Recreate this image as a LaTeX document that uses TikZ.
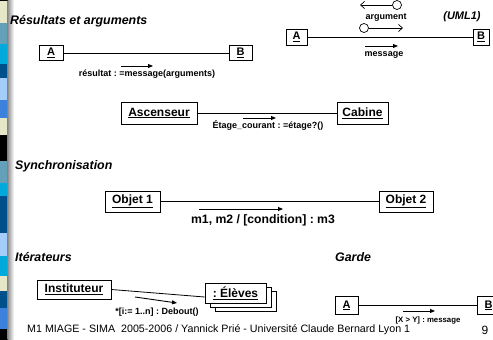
\documentclass[tikz,border=0pt]{standalone}
\usepackage{fontspec}
\setmainfont{Liberation Sans}
\usetikzlibrary{arrows.meta}
\frenchspacing

\definecolor{stripbeige}{RGB}{230,230,200}
\definecolor{stripteal}{RGB}{100,160,185}
\definecolor{stripcyan}{RGB}{0,170,220}
\definecolor{stripdark}{RGB}{0,80,140}
\definecolor{striplight}{RGB}{165,205,250}
\definecolor{stripmid}{RGB}{60,130,220}

\tikzset{
  obj/.style={draw, line width=0.8pt, fill=white, inner sep=0pt,
    font=\fontsize{12}{12}\selectfont\bfseries},
  smallobj/.style={obj, font=\fontsize{11}{11}\selectfont\bfseries},
  assoc/.style={line width=0.8pt},
  msg/.style={line width=0.9pt, -{Triangle[length=5pt,width=4pt]}},
  openmsg/.style={line width=0.7pt, -{Straight Barb[length=4pt,width=7pt]}},
  msglabel/.style={inner sep=0pt, font=\fontsize{9}{9}\selectfont\bfseries},
  section/.style={anchor=west, inner sep=0pt, font=\fontsize{12.4}{12}\selectfont\bfseries\itshape},
}

\begin{document}
\begin{tikzpicture}[x=1pt, y=-1pt]
\useasboundingbox (0,0) rectangle (493,340);
\fill[white] (0,0) rectangle (493,340);

% coloured strip on the left edge
\foreach \ya/\yb/\c in {0/1/black, 1/23/stripbeige, 23/44/stripteal, 44/64/stripcyan,
  64/78/stripdark, 78/100/striplight, 100/118/stripmid, 118/135/stripbeige,
  135/161/black, 161/183/stripteal, 183/196/stripcyan, 196/233/stripdark,
  233/256/striplight, 256/276/stripcyan, 276/291/stripbeige, 291/308/stripdark,
  308/329/stripmid, 329/340/black}
  \fill[\c] (0,\ya) rectangle (7.5,\yb);
\shade[left color=black!45, right color=white] (7.5,0) rectangle (14,340);

% --- Résultats et arguments
\node[section] (t1) at (10,21) {Résultats et arguments};
\node[smallobj, minimum width=24pt, minimum height=15pt] (a1) at (51,53) {\underline{A}};
\node[smallobj, minimum width=23pt, minimum height=15pt] (b1) at (240.5,53) {\underline{B}};
\draw[assoc] (a1) -- (b1);
\coordinate (r1s) at (121,66);
\coordinate (r1e) at (153,66);
\draw[msg] (r1s) -- (r1e);
\node[msglabel] (r1l) at (147,74) {résultat : =message(arguments)};

% --- UML1 notation
\node[section, anchor=center, font=\fontsize{11}{11}\selectfont\bfseries\itshape] (uml) at (462,17) {(UML1)};
\node[smallobj, minimum width=21pt, minimum height=16pt] (a2) at (296.5,37) {\underline{A}};
\node[smallobj, minimum width=16pt, minimum height=16pt] (b2) at (481,37) {\underline{B}};
\draw[assoc] (a2) -- (b2);
\node[draw, circle, line width=0.7pt, minimum size=9pt, inner sep=0pt] (c1) at (397,5) {};
\coordinate (c1e) at (360,5);
\draw[openmsg] (c1) -- (c1e);
\node[msglabel] (argl) at (386,18) {argument};
\node[draw, circle, line width=0.7pt, minimum size=9pt, inner sep=0pt] (c2) at (364,28) {};
\coordinate (c2e) at (403,28);
\draw[openmsg] (c2) -- (c2e);
\coordinate (m2s) at (365,46);
\coordinate (m2e) at (398,46);
\draw[msg] (m2s) -- (m2e);
\node[msglabel] (m2l) at (384,55) {message};

% --- Ascenseur / Cabine
\node[obj, minimum width=76pt, minimum height=22pt] (asc) at (159,113) {\underline{Ascenseur}};
\node[obj, minimum width=51pt, minimum height=22pt] (cab) at (362.5,113) {\underline{Cabine}};
\draw[assoc] (asc) -- (cab);
\coordinate (m3s) at (243,118);
\coordinate (m3e) at (276,118);
\draw[msg] (m3s) -- (m3e);
\node[msglabel] (m3l) at (268,125) {Étage\_courant : =étage?()};

% --- Synchronisation
\node[section] (t2) at (15,166) {Synchronisation};
\node[obj, minimum width=55pt, minimum height=21pt] (o1) at (132.5,201.5) {\underline{Objet 1}};
\node[obj, minimum width=54pt, minimum height=21pt] (o2) at (406,201.5) {\underline{Objet 2}};
\draw[assoc] (o1) -- (o2);
\coordinate (m4s) at (199,209);
\coordinate (m4e) at (283,209);
\draw[msg] (m4s) -- (m4e);
\node[inner sep=0pt, font=\fontsize{12.2}{12}\selectfont\bfseries] (m4l) at (263,220) {m1, m2 / [condition] : m3};

% --- Itérateurs
\node[section] (t3) at (15,257) {Itérateurs};
\node[obj, minimum width=74pt, minimum height=19pt] (inst) at (74,289.5) {\underline{Instituteur}};
\draw[line width=0.8pt, fill=white] (215,291) rectangle (276,311);
\draw[line width=0.8pt, fill=white] (210,287) rectangle (271,307);
\node[obj, minimum width=61pt, minimum height=20pt] (elv) at (235.5,293) {\underline{: Élèves}};
\draw[assoc] (inst.east) -- ([yshift=-4pt]elv.west);
\coordinate (m5s) at (135,297);
\coordinate (m5e) at (177,303);
\draw[msg] (m5s) -- (m5e);
\node[msglabel] (m5l) at (157,312) {*[i:= 1..n] : Debout()};

% --- Garde
\node[section] (t4) at (335,257) {Garde};
\node[smallobj, minimum width=23pt, minimum height=18pt] (a3) at (346.5,305.5) {\underline{A}};
\node[smallobj, minimum width=23pt, minimum height=18pt] (b3) at (488.5,305.5) {\underline{B}};
\draw[assoc] (a3) -- (b3);
\coordinate (m6s) at (403,311);
\coordinate (m6e) at (435,311);
\draw[msg] (m6s) -- (m6e);
\node[msglabel, font=\fontsize{7.8}{8}\selectfont\bfseries] (m6l) at (428,320) {[X > Y] : message};

% --- footer
\node[anchor=west, inner sep=0pt, font=\fontsize{10.7}{11}\selectfont] (foot) at (27,330)
  {M1 MIAGE - SIMA\ \ 2005-2006 / Yannick Prié - Université Claude Bernard Lyon 1};
\node[inner sep=0pt, font=\fontsize{12}{12}\selectfont] (pg) at (485,330) {9};
\end{tikzpicture}
\end{document}
